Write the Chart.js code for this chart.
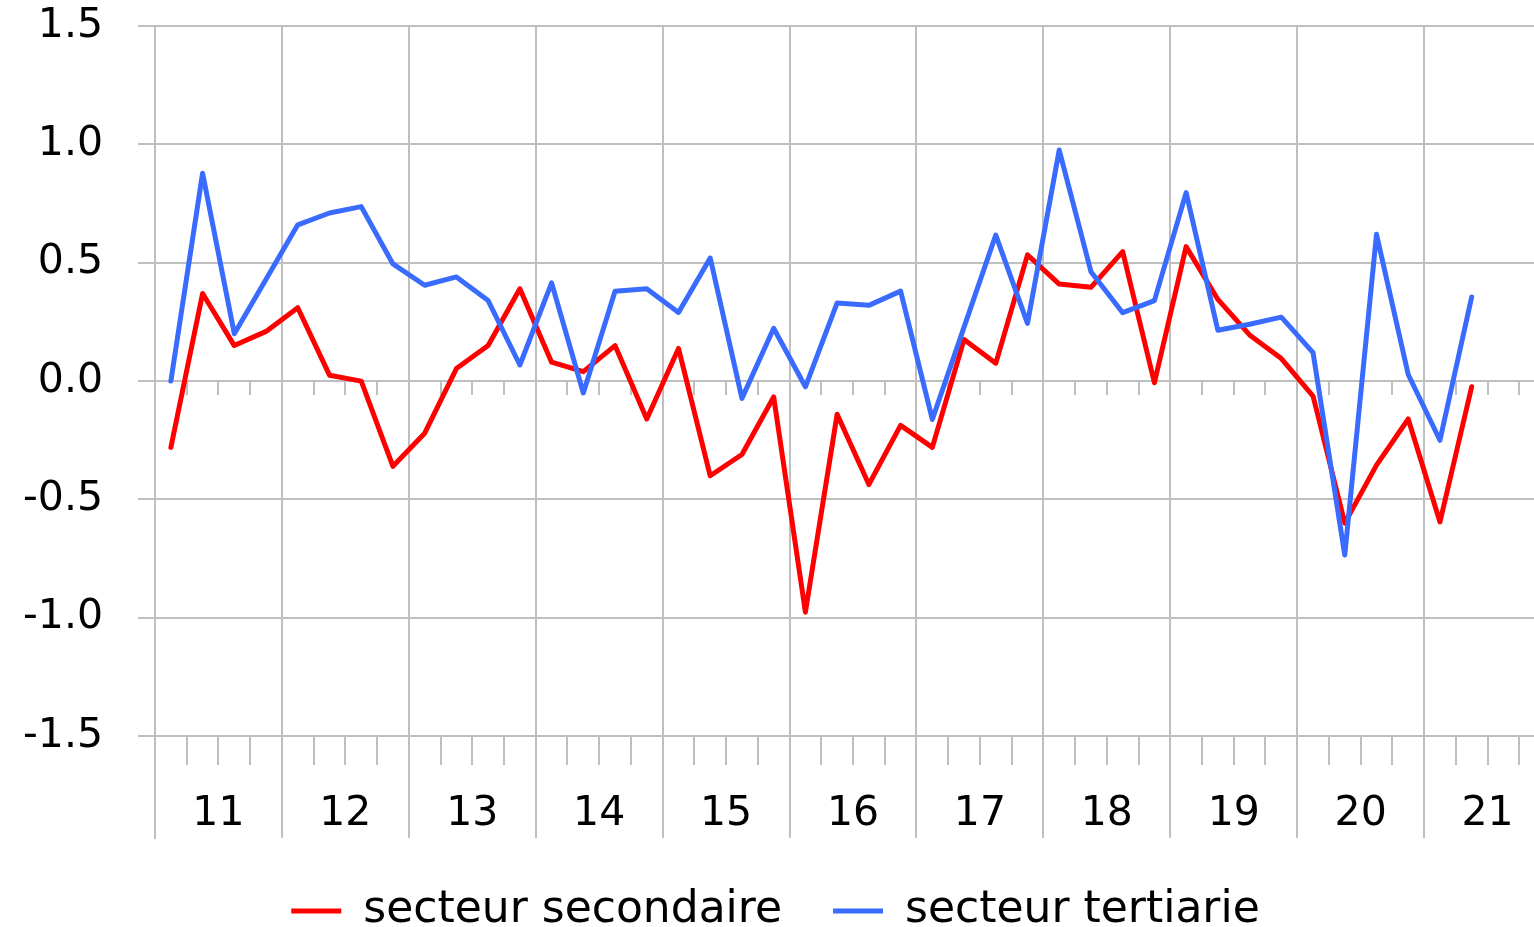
<!DOCTYPE html>
<html>
<head>
<meta charset="utf-8">
<script src="https://cdn.jsdelivr.net/npm/chart.js@4.4.0/dist/chart.umd.min.js"></script>
<style>
  html, body { margin: 0; padding: 0; overflow: hidden; background: #fff; }
  #wrap { position: absolute; left: 0; top: 0; }
</style>
</head>
<body>
<div id="wrap"><canvas id="myChart" width="1566" height="943"></canvas></div>
<script>
// years on the axis (2011 .. 2021), one label per year, 4 quarters each
const years = ['11', '12', '13', '14', '15', '16', '17', '18', '19', '20', '21'];
const yTicks = [-1.5, -1.0, -0.5, 0.0, 0.5, 1.0, 1.5];

// quarterly values, 2011T1 .. 2021T2
const secondaire = [
    -0.28, 0.37, 0.15, 0.21, 0.31, 0.025, 0.0, -0.36,
    -0.22, 0.053, 0.15, 0.39, 0.08, 0.04, 0.15, -0.16,
    0.138, -0.40, -0.31, -0.067, -0.976, -0.14, -0.437, -0.187,
    -0.28, 0.176, 0.075, 0.533, 0.41, 0.396, 0.547, -0.007,
    0.568, 0.345, 0.195, 0.095, -0.063, -0.60, -0.355, -0.16,
    -0.595, -0.024
];
const tertiaire = [
    0.0, 0.878, 0.20, 0.43, 0.66, 0.71, 0.737, 0.495,
    0.405, 0.44, 0.34, 0.068, 0.415, -0.05, 0.38, 0.39,
    0.29, 0.52, -0.073, 0.223, -0.024, 0.33, 0.32, 0.38,
    -0.162, 0.228, 0.617, 0.244, 0.976, 0.462, 0.289, 0.34,
    0.796, 0.215, 0.24, 0.27, 0.12, -0.735, 0.62, 0.028,
    -0.25, 0.355
];

var quarters = [];
for (let y in years) {
    for (let q = 1; q <= 4; q++) {
        quarters.push(years[y] + 'T' + q);
    }
}

const GRID = '#bfbfbf';
const FONT = 'DejaVu Sans';

var ctx = document.getElementById('myChart').getContext('2d');
var chart = new Chart(ctx, {
    type: 'line',
    data: {
        labels: quarters,
        datasets: [{
            label: 'secteur secondaire',
            data: secondaire,
            borderColor: '#ff0000',
            backgroundColor: '#ff0000',
            borderWidth: 5,
            borderJoinStyle: 'round',
            borderCapStyle: 'round',
            pointRadius: 0,
            tension: 0,
            order: 1
        }, {
            label: 'secteur tertiarie',
            data: tertiaire,
            borderColor: '#3a6bff',
            backgroundColor: '#3a6bff',
            borderWidth: 5,
            borderJoinStyle: 'round',
            borderCapStyle: 'round',
            pointRadius: 0,
            tension: 0,
            order: 0
        }]
    },
    options: {
        responsive: false,
        animation: false,
        layout: { padding: { top: 26, right: 15, left: 0, bottom: 0 } },
        plugins: {
            tooltip: { enabled: false },
            legend: {
                position: 'bottom',
                labels: {
                    usePointStyle: true,
                    pointStyle: 'line',
                    pointStyleWidth: 50,
                    padding: 51,
                    color: '#000',
                    font: { family: FONT, size: 44 },
                    sort: (a, b) => a.datasetIndex - b.datasetIndex
                }
            }
        },
        scales: {
            y: {
                min: -1.93,
                max: 1.5,
                afterFit: (scale) => {
                    scale.width = 155;
                    // labels may stick out above the plot, don't push it down
                    scale.paddingTop = 0;
                    scale.paddingBottom = 0;
                },
                afterBuildTicks: (scale) => {
                    scale.ticks = yTicks.map(v => ({ value: v }));
                },
                ticks: {
                    padding: 35,
                    color: '#000',
                    font: { family: FONT, size: 41 },
                    callback: (v) => Number(v).toFixed(1)
                },
                grid: { color: GRID, lineWidth: 2, tickLength: 17 },
                border: { color: GRID, width: 2 }
            },
            // axis carrying the year labels, sitting on the -1.5 line
            x: {
                type: 'category',
                offset: true,
                position: { y: -1.5 },
                grid: {
                    offset: true,
                    color: (c) => (c.index % 4 === 0 ? GRID : 'rgba(0,0,0,0)'),
                    tickColor: GRID,
                    lineWidth: 2,
                    tickLength: 28
                },
                border: { color: GRID, width: 2 },
                ticks: {
                    autoSkip: false,
                    maxRotation: 0,
                    minRotation: 0,
                    labelOffset: 15.86,
                    padding: 26,
                    color: '#000',
                    font: { family: FONT, size: 41 },
                    callback: (v, i) => (i % 4 === 1 ? years[Math.floor(i / 4)] : '')
                }
            },
            // small quarter ticks under the zero line
            x0: {
                type: 'category',
                axis: 'x',
                offset: true,
                position: { y: 0 },
                grid: {
                    offset: true,
                    drawOnChartArea: false,
                    tickColor: GRID,
                    lineWidth: 2,
                    tickLength: 14
                },
                border: { display: false },
                ticks: { display: false }
            }
        }
    }
});
</script>
</body>
</html>
